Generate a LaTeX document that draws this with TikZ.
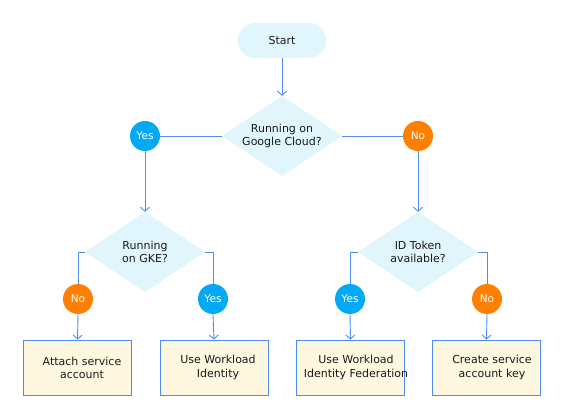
\documentclass[tikz,border=0pt]{standalone}
\usepackage{fontspec}
\setmainfont{DejaVu Sans}
\usetikzlibrary{shapes.geometric,arrows.meta}
\definecolor{lnblue}{HTML}{4F8CF2}
\definecolor{cyanfill}{HTML}{E1F5FC}
\definecolor{boxfill}{HTML}{FFF8E1}
\definecolor{yesc}{HTML}{03A9F4}
\definecolor{noc}{HTML}{FF7F00}
\definecolor{txt}{HTML}{1A1A1A}
\begin{document}
\begin{tikzpicture}[x=1pt,y=-1pt,
  every node/.style={font=\fontsize{11}{13.2}\selectfont, text=txt, align=center},
  startbox/.style={fill=cyanfill, rounded corners=17pt, minimum width=88pt, minimum height=35pt, inner sep=0pt},
  decision/.style={diamond, fill=cyanfill, shape aspect=1.5, minimum width=120pt, minimum height=80pt, inner sep=0pt},
  yesdot/.style={circle, fill=yesc, minimum size=30pt, inner sep=0pt, text=white, font=\fontsize{10.6}{12}\selectfont},
  nodot/.style={circle, fill=noc, minimum size=30pt, inner sep=0pt, text=white, font=\fontsize{10.6}{12}\selectfont},
  resultbox/.style={draw=lnblue, fill=boxfill, line width=0.8pt, minimum width=108pt, minimum height=55pt, inner sep=0pt},
  conn/.style={draw=lnblue, line width=0.9pt},
  arr/.style={conn, -{Straight Barb[length=4pt,width=9pt]}}
]
\useasboundingbox (0,0) rectangle (565,419);
\node[startbox] (start) at (282,40.5) {Start};
\node[decision] (d1) at (282,136) {Running on\\Google Cloud?};
\node[yesdot] (y1) at (145,136) {Yes};
\node[nodot] (n1) at (418,136) {No};
\node[decision] (d2) at (145,252) {Running\\on GKE?};
\node[decision] (d3) at (418,252) {ID Token\\available?};
\node[nodot] (n2) at (78,299) {No};
\node[yesdot] (y2) at (213,299) {Yes};
\node[yesdot] (y3) at (350,299) {Yes};
\node[nodot] (n3) at (487,299) {No};
\node[resultbox] (b1) at (77.5,367.5) {};
\node[resultbox] (b2) at (214,367.5) {};
\node[resultbox] (b3) at (350.5,367.5) {};
\node[resultbox] (b4) at (486.5,367.5) {};
\node (t1) at (82,367.5) {Attach service\\account};
\node (t2) at (218,367.5) {Use Workload\\Identity};
\node (t3) at (356,367.5) {Use Workload\\Identity Federation};
\node (t4) at (492,367.5) {Create service\\account key};
\draw[arr] (start.south) -- (d1.north);
\draw[conn] (d1.west) -- (y1.east);
\draw[conn] (d1.east) -- (n1.west);
\draw[arr] (y1.south) -- (d2.north);
\draw[arr] (n1.south) -- (d3.north);
\draw[conn] (d2.west) -| (n2.north);
\draw[conn] (d2.east) -| (y2.north);
\draw[conn] (d3.west) -| (y3.north);
\draw[conn] (d3.east) -| (n3.north);
\draw[arr] (n2.south) -- (b1.north);
\draw[arr] (y2.south) -- (b2.north);
\draw[arr] (y3.south) -- (b3.north);
\draw[arr] (n3.south) -- (b4.north);
\end{tikzpicture}
\end{document}
